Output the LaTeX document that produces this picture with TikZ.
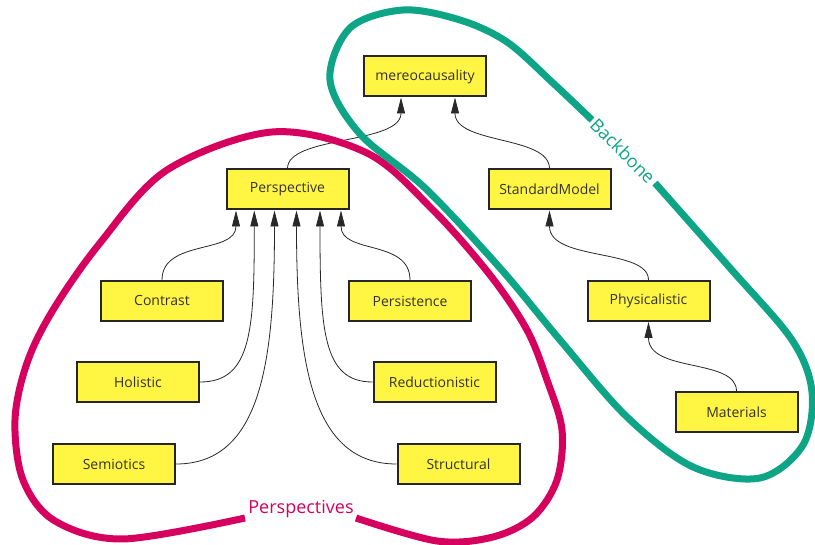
\documentclass[tikz,border=0pt]{standalone}
\usepackage{fontspec}
\setmainfont{Open Sans}
\usetikzlibrary{arrows.meta}
\definecolor{boxfill}{RGB}{255,245,66}
\definecolor{boxline}{RGB}{38,38,38}
\definecolor{txt}{RGB}{51,51,51}
\definecolor{pinkc}{RGB}{214,0,94}
\definecolor{greenc}{RGB}{14,165,134}
\definecolor{edgec}{RGB}{40,40,40}
\begin{document}
\begin{tikzpicture}[x=1pt,y=-1pt,
  box/.style={draw=boxline, line width=2pt, fill=boxfill, minimum width=122pt, minimum height=40pt, inner sep=0pt, font=\fontsize{14}{16}\selectfont, text=txt},
  edge/.style={draw=edgec, line width=0.8pt, -{Triangle[length=16pt,width=8pt]}},
  blob/.style={line width=7pt},
  lbl/.style={font=\fontsize{18}{20}\selectfont, inner sep=0pt}]
\useasboundingbox (0,0) rectangle (815,545);

% nodes
\node[box] (mereo) at (425,76.5) {mereocausality};
\node[box] (sm) at (549.5,189.5) {StandardModel};
\node[box] (persp) at (287.5,189.5) {Perspective};
\node[box] (contrast) at (162,301) {Contrast};
\node[box] (persist) at (410,301) {Persistence};
\node[box] (holistic) at (138,382) {Holistic};
\node[box] (reduc) at (434.5,382) {Reductionistic};
\node[box] (semio) at (114,464) {Semiotics};
\node[box] (struct) at (458.5,464) {Structural};
\node[box] (phys) at (648.5,301) {Physicalistic};
\node[box] (mat) at (736.5,412) {Materials};

% edges
\draw[edge] (persp.north) .. controls +(0,-33) and +(0,47) .. ([xshift=-24pt]mereo.south);
\draw[edge] (sm.north) .. controls +(0,-33) and +(0,47) .. ([xshift=30pt]mereo.south);
\draw[edge] (phys.north) .. controls +(0,-32) and +(0,51) .. (sm.south);
\draw[edge] (mat.north) .. controls +(0,-33) and +(0,51) .. (phys.south);
\draw[edge] (contrast.north) .. controls +(0,-41) and +(0,44) .. ([xshift=-51.5pt]persp.south);
\draw[edge] (holistic.east) .. controls +(52,0) and +(0,119) .. ([xshift=-33.2pt]persp.south);
\draw[edge] (semio.east) .. controls +(86,0) and +(0,149) .. ([xshift=-13pt]persp.south);
\draw[edge] (struct.west) .. controls +(-86,0) and +(0,149) .. ([xshift=9pt]persp.south);
\draw[edge] (reduc.west) .. controls +(-50,0) and +(0,119) .. ([xshift=32.5pt]persp.south);
\draw[edge] (persist.north) .. controls +(0,-41) and +(0,44) .. ([xshift=53.5pt]persp.south);

% groups
\draw[pinkc, blob] plot[smooth, tension=0.55] coordinates {(356,518) (437,541) (493,537) (533,517) (557,480) (562,430) (547,380) (527,330) (490,275) (433,210) (367,153) (272,132) (167,170) (100,243) (53,310) (27,363) (15,420) (23,480) (55,521) (123,539) (245,518)};
\draw[greenc, blob] plot[smooth, tension=0.55] coordinates {(655,183) (730,268) (792,340) (812,392) (803,445) (760,478) (693,467) (627,417) (560,340) (500,268) (425,188) (360,134) (330,80) (350,28) (403,10) (460,20) (507,42) (553,83) (592,120)};

\node[lbl, text=pinkc] (plabel) at (301,509) {Perspectives};
\node[lbl, text=greenc, rotate=-45] (blabel) at (623,151) {Backbone};
\end{tikzpicture}
\end{document}
